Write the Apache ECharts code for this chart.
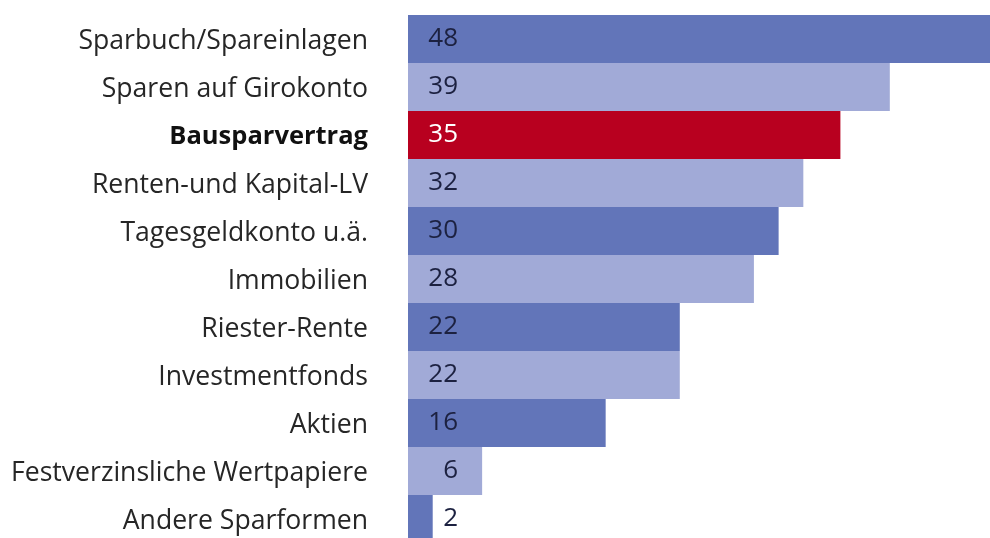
<!DOCTYPE html>
<html><head><meta charset="utf-8">
<script src="https://cdn.jsdelivr.net/npm/echarts@6/dist/echarts.min.js"></script>
<style>html,body{margin:0;padding:0;background:#fff}#c{width:990px;height:538px}</style>
</head><body><div id="c"></div>
<script>
const categories = ["Sparbuch/Spareinlagen","Sparen auf Girokonto","Bausparvertrag","Renten-und Kapital-LV","Tagesgeldkonto u.ä.","Immobilien","Riester-Rente","Investmentfonds","Aktien","Festverzinsliche Wertpapiere","Andere Sparformen"];
const values = [48,39,35,32,30,28,22,22,16,6,2];
const highlight = "Bausparvertrag";
const DARK = "#6275B9", LIGHT = "#A1AAD7", RED = "#B8001F";
const FONT = "Open Sans";
const chart = echarts.init(document.getElementById('c'), null, {renderer:'canvas'});
chart.setOption({
  animation:false,
  grid:{left:408, top:15, width:593, height:528, containLabel:false, outerBoundsMode:'none'},
  xAxis:{type:'value', min:0, max:48, show:false},
  yAxis:{type:'category', data:categories, inverse:true,
    axisLine:{show:false}, axisTick:{show:false},
    axisLabel:{margin:40, fontSize:26.6, color:'#262626', fontFamily:FONT, padding:[4,0,0,0],
      formatter:(v)=> v===highlight ? '{b|'+v+'}' : v,
      rich:{b:{fontWeight:'bold', fontSize:25.5, color:'#111', fontFamily:FONT}}}},
  series:[{type:'bar', barWidth:'100%', barCategoryGap:0,
    data: values.map((v,i)=>({value:v, itemStyle:{color: categories[i]===highlight ? RED : (i%2===0 ? DARK : LIGHT)},
      label:{color: categories[i]===highlight ? '#fff' : '#1c2140'}})),
    label:{show:true, position:[50,'50%'], align:'right', verticalAlign:'middle', fontSize:26, fontFamily:FONT, padding:[4,0,0,0]}
  }]
});
</script></body></html>
